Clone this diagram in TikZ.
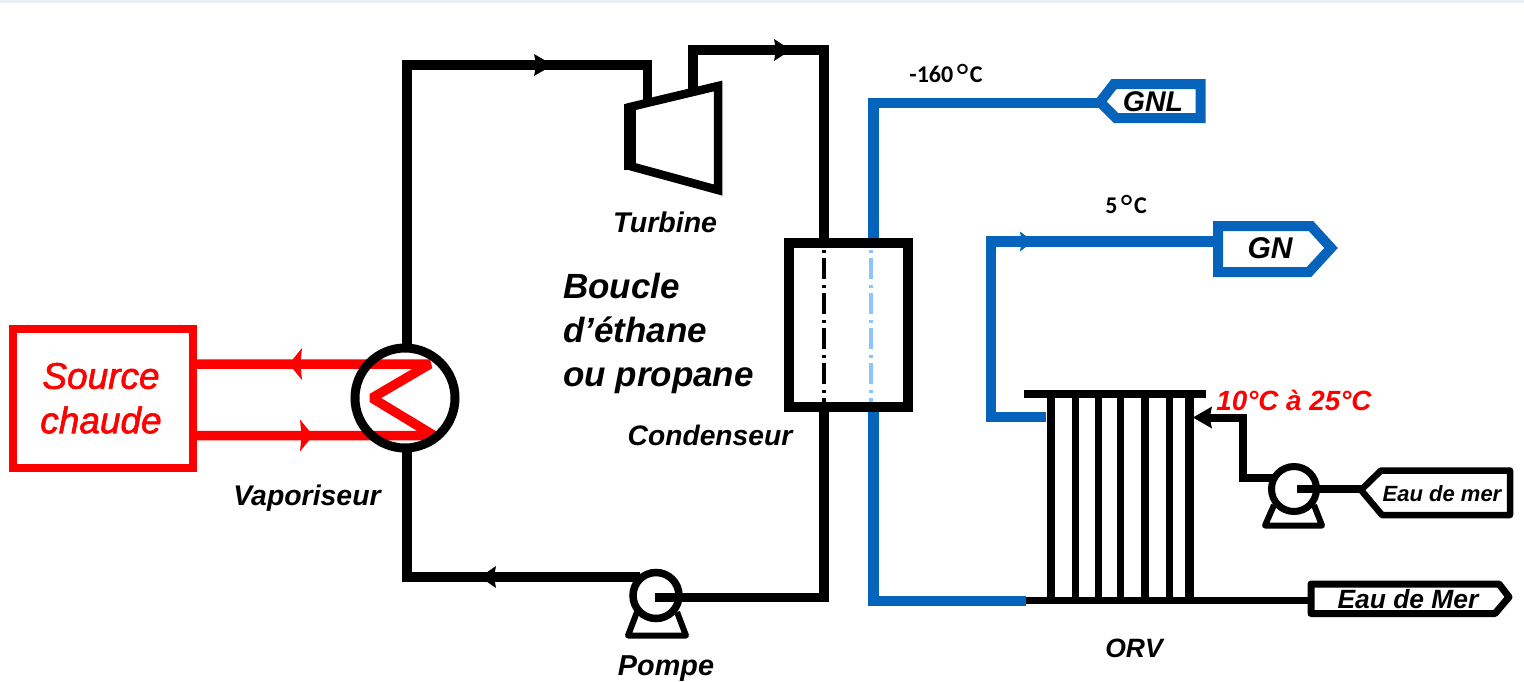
\documentclass[tikz,border=0pt]{standalone}
\usepackage{fontspec}
\setmainfont{Liberation Sans}
\newfontfamily\calib{Carlito}
\newfontfamily\srcfont[FakeBold=1.6]{Liberation Sans Italic}
\usetikzlibrary{calc}
\definecolor{pipeblue}{HTML}{0563BB}
\definecolor{paleblue}{HTML}{8CC4FF}
\definecolor{hotred}{HTML}{FF0000}
\definecolor{topband}{HTML}{E9EFF7}
\newcommand{\fsz}[1]{\fontsize{#1}{#1}\selectfont}
\newcommand{\flowtip}[5]{\fill[#5,shift={(#1)},rotate=#2,yscale=-1] (#3,0) -- (0,#4) -- (#3*0.12,0) -- (0,-#4) -- cycle;}
\newcommand{\bigdeg}{\hspace{3.5pt}{\mdseries\fsz{34}\raisebox{-5.5pt}{°}}\hspace{1.5pt}}
\tikzset{
  x=1pt,y=-1pt,
  blackpipe/.style={draw=black,line width=9.5pt,line join=miter},
  bluepipe/.style={draw=pipeblue,line width=10.5pt,line join=miter},
  redpipe/.style={draw=hotred,line width=9.5pt,line join=bevel},
  thinpipe/.style={draw=black,line width=8pt,line join=miter},
  pumpbody/.style={circle,draw=black,line width=7.5pt,minimum size=46pt,inner sep=0pt},
  pumpbase/.style={draw=black,line width=6pt,line join=round},
  tagblue/.style={draw=pipeblue,line width=10pt,line join=miter},
  tagblack/.style={draw=black,line width=6.5pt,line join=round},
  lab/.style={inner sep=0pt,font=\bfseries\itshape},
  centerl/.style={line width=4pt,dash pattern=on 3pt off 5pt on 21pt off 6pt},
}
\begin{document}
\begin{tikzpicture}
\useasboundingbox (0,0) rectangle (1524,681);
\fill[white] (0,0) rectangle (1524,681);
\fill[topband] (0,0) rectangle (1524,3);
% named points
\coordinate (vapT) at (407,352);
\coordinate (vapB) at (407,448);
\coordinate (tl) at (407,65);
\coordinate (tin) at (647.5,110);
\coordinate (tout) at (693,92);
\coordinate (tr) at (824,50);
\coordinate (br) at (824,597.5);
\coordinate (pIn) at (655,597.5);
\coordinate (pOut) at (640,577);
\coordinate (bl) at (407,577);
% red heat loop
\node[draw=hotred,line width=8pt,minimum width=180pt,minimum height=139pt,inner sep=0pt] (src) at (103,398.5) {};
\coordinate (srcT) at (193,364);
\coordinate (srcB) at (193,435.5);
\coordinate (z1) at (430,364);
\coordinate (z2) at (372,398);
\coordinate (z3) at (434,435.5);
\draw[redpipe] (srcT) -- (z1) -- (z2) -- (z3) -- (srcB);
\flowtip{302,364}{180}{13}{16}{hotred}
\flowtip{300,435.5}{0}{13}{16}{hotred}
\node[text=hotred,inner sep=0pt,font=\srcfont\fsz{37}] (srca) at (101,376) {Source};
\node[text=hotred,inner sep=0pt,font=\srcfont\fsz{37}] (srcb) at (101,420) {chaude};
% vaporiser
\node[circle,draw=black,line width=9pt,minimum size=100pt,inner sep=0pt] (vap) at (405,398) {};
% black loop
\draw[blackpipe] (vapT) -- (tl) -- (tl -| tin) -- (tin);
\draw[blackpipe] (tout) -- (tout |- tr) -- (tr) -- (br) -- (pIn);
\draw[blackpipe] (pOut) -- (bl) -- (vapB);
\flowtip{534,65}{0}{19}{11}{black}
\flowtip{774,50}{0}{17}{11}{black}
\flowtip{496,577}{180}{16}{11}{black}
% turbine
\draw[draw=black,line width=8.5pt,line join=miter,fill=white] (630,107) -- (718,86) -- (718,190) -- (630,166) -- cycle;
\fill[black] (624,104) rectangle (636,170);
\node[lab,font=\bfseries\itshape\fsz{28.5}] (turb) at (665,222) {Turbine};
\node[lab,font=\bfseries\itshape\fsz{35},anchor=base west] (b1) at (563,298) {Boucle};
\node[lab,font=\bfseries\itshape\fsz{35},anchor=base west] (b2) at (563,342) {d’éthane};
\node[lab,font=\bfseries\itshape\fsz{35},anchor=base west] (b3) at (563,386) {ou propane};
\node[lab,font=\bfseries\itshape\fsz{28.2}] (condl) at (710,435) {Condenseur};
\node[lab,font=\bfseries\itshape\fsz{28.4}] (vapl) at (307,498) {Vaporiseur};
\node[lab,font=\bfseries\itshape\fsz{28.8},anchor=base] (pompel) at (666,675) {Pompe};
\node[lab,font=\bfseries\itshape\fsz{26.5}] (orvl) at (1134,648) {ORV};
% blue lines
\coordinate (gnlE) at (1100,103);
\coordinate (gnlC) at (873.5,103);
\coordinate (gnlB) at (873.5,601);
\coordinate (orvBL) at (1026,601);
\draw[bluepipe] (gnlE) -- (gnlC) -- (gnlB) -- (orvBL);
% condenser
\node[draw=black,line width=10pt,fill=white,minimum width=119pt,minimum height=164pt,inner sep=0pt] (cond) at (848.5,325) {};
\draw[centerl,black] (824,250) -- (824,402);
\draw[centerl,paleblue] (871,250) -- (871,402);
% GN line
\coordinate (gnE) at (1220,241.5);
\coordinate (gnC) at (991,241.5);
\coordinate (gnB) at (991,417);
\coordinate (orvL) at (1046,417);
\draw[bluepipe] (gnE) -- (gnC) -- (gnB) -- (orvL);
\flowtip{1020,241.5}{0}{13}{10}{pipeblue}
% tags
\draw[tagblue] (1100,102) -- (1114,84) -- (1200.5,84) -- (1200.5,118) -- (1116,118) -- cycle;
\node[lab,font=\bfseries\itshape\fsz{28.5}] (gnl) at (1153,102) {GNL};
\draw[tagblue] (1218,226) -- (1311,226) -- (1331,248) -- (1309,272) -- (1218,272) -- cycle;
\node[lab,font=\bfseries\itshape\fsz{30}] (gn) at (1270,248) {GN};
% temperatures
\node[inner sep=0pt,font=\calib\bfseries\fsz{24}] (t1) at (946,76) {-160\bigdeg C};
\node[inner sep=0pt,font=\calib\bfseries\fsz{24}] (t2) at (1126,207) {5\bigdeg C};
\node[lab,text=hotred,font=\bfseries\itshape\fsz{27.8}] (t3) at (1294,400) {10°C à 25°C};
% ORV
\coordinate (orvTL) at (1024,394);
\coordinate (orvTR) at (1206,394);
\coordinate (orvBR) at (1314,600.5);
\draw[thinpipe] (orvTL) -- (orvTR);
\draw[draw=black,line width=7pt] (orvBL |- orvBR) -- (orvBR);
\foreach \xx/\ww in {1051/8.5,1075/7,1098/7,1120/7,1145/8,1169/7,1189/9}{
  \draw[black,line width=\ww pt] (\xx,394) -- (\xx,600);
}
% sea water pump
\coordinate (p2out) at (1275,477.5);
\coordinate (p2turn) at (1243,417.5);
\coordinate (p2in) at (1297,489);
\coordinate (seaT) at (1362,489);
\coordinate (orvIn) at (1205,417.5);
\draw[thinpipe] (p2out) -- (p2out -| p2turn) -- (p2turn) -- (orvIn);
\flowtip{1212,417.5}{180}{19}{11}{black}
\draw[pumpbase] (1274,505) -- (1265,525.5) -- (1322,525.5) -- (1314,505);
\node[pumpbody,line width=7pt,minimum size=45pt] (pump2) at (1294,489) {};
\draw[thinpipe] (p2in) -- (seaT);
\draw[tagblack] (1361,490) -- (1381,470.5) -- (1510,470.5) -- (1510,515) -- (1382,515) -- cycle;
\node[lab,font=\bfseries\itshape\fsz{22}] (eau1) at (1442,494) {Eau de mer};
\draw[tagblack,line width=7pt,fill=white] (1311,584) -- (1499,584) -- (1509,597) -- (1495,613.5) -- (1311,613.5) -- cycle;
\node[lab,font=\bfseries\itshape\fsz{26.4}] (eau2) at (1408,599) {Eau de Mer};
% loop pump
\draw[pumpbase] (637,612) -- (628,635.5) -- (686,635.5) -- (677,612);
\node[pumpbody] (pump1) at (656,595.5) {};
\draw[blackpipe] (pIn) -- (br);
\end{tikzpicture}
\end{document}
